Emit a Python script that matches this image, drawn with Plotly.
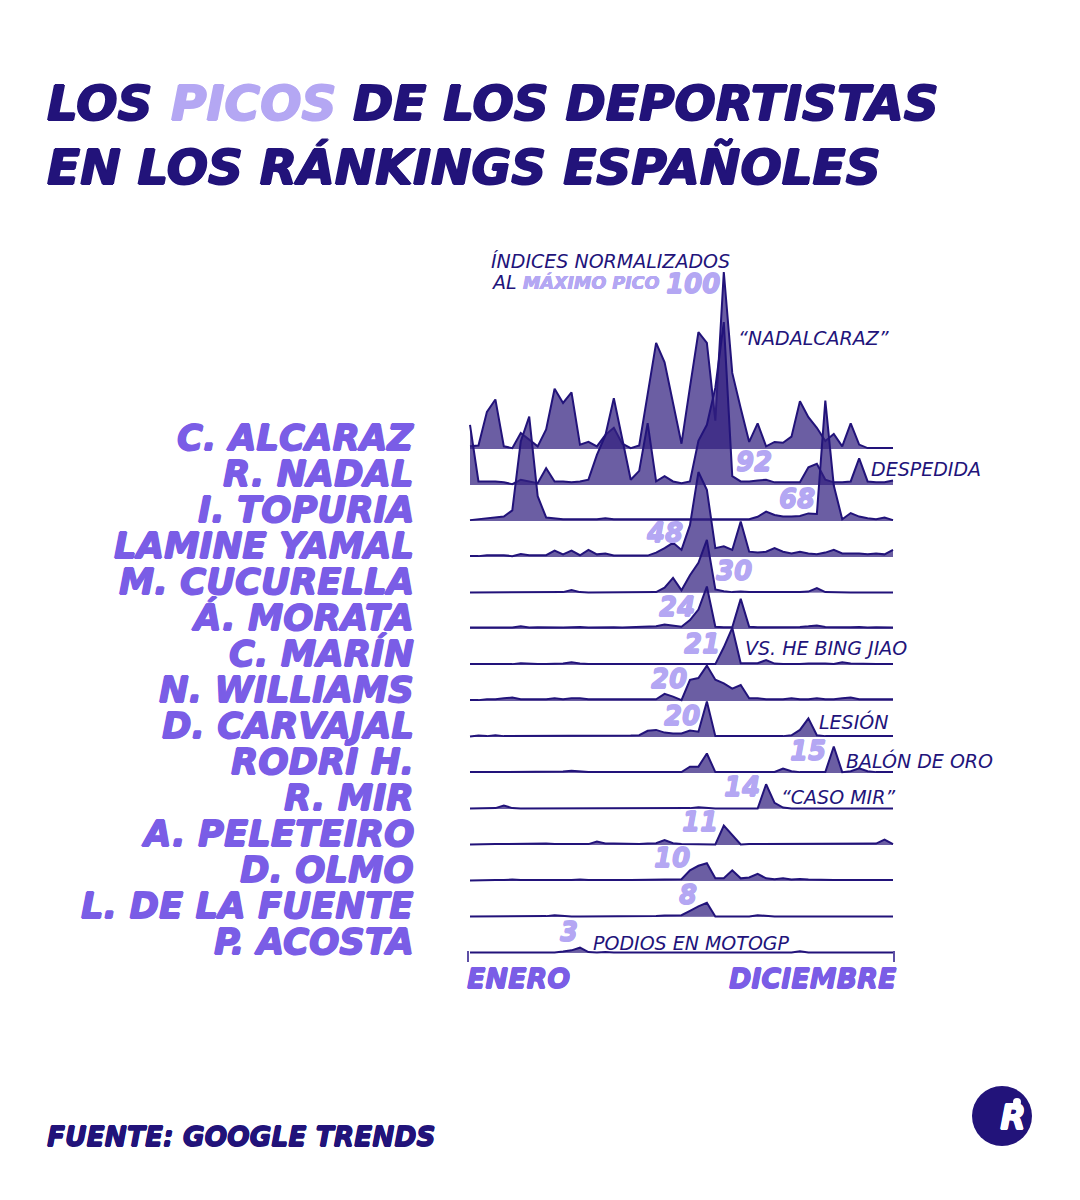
import plotly.graph_objects as go

# Google Trends semanal (51 semanas), índice normalizado al pico máximo (Alcaraz = 100)
weeks = list(range(51))

athletes = ['C. ALCARAZ', 'R. NADAL', 'I. TOPURIA', 'LAMINE YAMAL', 'M. CUCURELLA',
            'Á. MORATA', 'C. MARÍN', 'N. WILLIAMS', 'D. CARVAJAL', 'RODRI H.',
            'R. MIR', 'A. PELETEIRO', 'D. OLMO', 'L. DE LA FUENTE', 'P. ACOSTA']

alcaraz = [1.5, 2, 21, 28, 1.5, 0.5, 9, 5, 1.5, 11,
           34, 26, 32, 2.5, 4, 1.5, 8, 12, 3, 0.5,
           2, 31, 60, 49, 26, 3, 35, 66, 60, 16,
           100, 43, 23, 4, 14.5, 1.5, 4, 3.5, 7, 27,
           18, 12, 4.5, 8.5, 1.5, 14.5, 2.5, 0.5, 0.5, 0.5,
           0.5]
nadal = [34, 2, 2, 2, 1.5, 0.5, 3, 2, 1, 9.5,
         2, 2, 1.5, 2, 3, 17, 28, 49, 25, 3,
         8, 35, 2, 5, 2, 1, 2, 25, 34, 55,
         92, 5, 2, 2, 2.5, 3, 1.5, 1.5, 1.5, 1.5,
         10, 12, 3, 1.5, 1.5, 2, 15, 2, 1.5, 1.5,
         2.5]
topuria = [0.5, 1, 1.5, 2, 2.5, 6, 45, 59, 14, 2,
           1.5, 1, 1, 1, 1, 1, 1.5, 1, 1, 1,
           1, 1, 1, 1, 1, 1, 1, 1, 1, 1,
           1, 1, 1, 1, 2.4, 5.3, 3.4, 2.5, 2.5, 2.8,
           4.3, 4, 68, 20, 1, 4.5, 2.5, 1.5, 1, 2,
           0.5]
lamine = [0.5, 0.5, 1, 1, 1, 0.5, 1.7, 1, 0.8, 1,
          3.6, 1.5, 3.6, 1, 4, 1.5, 2, 0.8, 0.8, 0.8,
          0.8, 0.8, 2.5, 5, 8, 4, 18, 48, 38, 5,
          6, 4, 20, 3, 2.5, 3, 5, 3, 2, 3,
          2, 1.5, 2.5, 4, 2, 2, 2, 1.5, 2, 1.5,
          4]
cucurella = [0.3, 0.3, 0.3, 0.3, 0.3, 0.3, 0.3, 0.3, 0.3, 0.3,
             0.3, 0.5, 1.7, 0.5, 0.3, 0.3, 0.3, 0.3, 0.3, 0.3,
             0.3, 0.5, 0.5, 3, 8.5, 1.5, 10, 17, 30, 2,
             1, 0.5, 0.8, 0.5, 0.5, 0.5, 0.3, 0.3, 0.3, 0.5,
             0.8, 2.8, 0.5, 0.3, 0.3, 0.3, 0.3, 0.3, 0.3, 0.3,
             0.3]
morata = [0.8, 0.8, 0.8, 0.8, 1, 0.8, 1.5, 0.8, 1, 0.8,
          1, 0.8, 1, 1.2, 0.8, 1, 0.8, 1, 0.8, 1,
          1, 1.2, 1.5, 2.5, 1.8, 1.3, 5, 11, 24, 1.3,
          1, 1, 17, 1.3, 1, 1, 0.8, 1, 1, 1.2,
          1.5, 2, 1.2, 1, 0.8, 1, 1.2, 0.8, 1, 0.8,
          0.8]
marin = [0.5, 0.5, 0.5, 0.5, 0.6, 0.5, 1, 0.6, 0.5, 0.5,
         0.6, 0.8, 1.5, 0.8, 0.6, 0.5, 0.5, 0.5, 0.6, 0.5,
         0.5, 0.6, 0.5, 0.5, 0.6, 0.5, 0.5, 0.5, 0.5, 0.5,
         10, 21, 1, 0.8, 1, 2.8, 0.8, 0.6, 0.5, 0.6,
         0.8, 1, 0.8, 0.6, 1.5, 0.8, 0.6, 0.5, 0.6, 0.5,
         0.5]
williams = [0.5, 0.5, 1, 1, 1.5, 2, 1, 0.8, 1, 1,
            1.5, 1, 1.5, 1.5, 1, 1, 0.8, 1, 1, 1,
            1, 1, 1, 4, 2.5, 0.5, 12, 13, 20, 12,
            10, 7, 9, 1.5, 1.5, 1, 1, 1, 1.5, 1,
            1, 1.5, 1, 1, 1.5, 2, 1, 1, 1, 1,
            1]
carvajal = [0.3, 0.8, 0.5, 1, 0.5, 0.5, 0.6, 0.5, 0.6, 0.5,
            0.5, 0.5, 0.8, 0.6, 0.5, 0.6, 0.5, 0.6, 0.5, 0.8,
            1, 3.5, 4, 2.5, 2, 2, 3.6, 3, 20, 0.5,
            0.5, 0.5, 0.5, 0.5, 0.5, 0.5, 0.5, 0.5, 1, 4,
            10.5, 1, 0.5, 0.5, 0.5, 0.5, 0.5, 0.5, 0.5, 0.5,
            0.5]
rodri = [0.5, 0.5, 0.5, 0.5, 0.5, 0.5, 0.6, 0.5, 0.5, 0.6,
         0.5, 0.8, 1.3, 0.8, 0.6, 0.5, 0.5, 0.5, 0.5, 0.5,
         0.5, 0.5, 0.6, 0.5, 0.5, 0.5, 3.6, 3.6, 11, 0.5,
         0.5, 0.5, 0.5, 0.5, 0.5, 0.5, 0.6, 2.5, 1, 0.5,
         0.5, 0.5, 0.5, 15, 0.5, 1, 2.6, 1, 0.5, 0.5,
         0.5]
mir = [0.3, 0.3, 0.3, 0.5, 2, 0.5, 0.3, 0.3, 0.3, 0.3,
       0.3, 0.3, 0.3, 0.3, 0.3, 0.3, 0.3, 0.3, 0.3, 0.3,
       0.3, 0.3, 0.3, 0.3, 0.3, 0.3, 0.5, 1, 0.5, 0.3,
       0.3, 0.3, 0.3, 0.3, 0.3, 14, 3.5, 0.8, 0.3, 0.3,
       0.3, 0.3, 0.3, 0.3, 0.3, 0.3, 0.3, 0.3, 0.3, 0.3,
       0.3]
peleteiro = [0.3, 0.5, 0.5, 0.5, 0.5, 0.6, 0.5, 0.8, 0.5, 0.8,
             0.5, 0.5, 0.6, 0.5, 0.5, 2, 0.8, 0.8, 0.6, 0.6,
             0.6, 0.8, 1, 2.8, 1, 0.6, 0.6, 0.5, 0.5, 0.3,
             11, 5.5, 0.3, 0.5, 0.5, 0.6, 0.5, 0.5, 0.6, 0.5,
             0.5, 0.6, 0.5, 0.5, 0.5, 0.5, 0.5, 0.5, 0.8, 3,
             0.5]
olmo = [0.3, 0.5, 0.5, 0.6, 0.5, 0.8, 0.5, 0.6, 0.5, 0.8,
        0.5, 0.6, 0.5, 0.8, 0.5, 0.6, 0.5, 0.6, 0.5, 0.5,
        0.6, 0.5, 0.6, 0.5, 0.8, 1, 6, 8.6, 10, 1.5,
        1.5, 6, 1.5, 2, 4, 1.5, 1, 1.5, 0.8, 1.2,
        0.8, 0.6, 0.5, 0.6, 0.5, 0.5, 0.6, 0.5, 0.8, 0.6,
        0.6]
de_la_fuente = [0.3, 0.3, 0.3, 0.3, 0.3, 0.3, 0.3, 0.3, 0.3, 0.5,
                1, 0.5, 0.3, 0.3, 0.3, 0.3, 0.3, 0.3, 0.3, 0.3,
                0.3, 0.5, 0.5, 0.8, 0.8, 1, 3.5, 6, 8, 0.3,
                0.3, 0.3, 0.3, 0.3, 1, 0.5, 0.3, 0.3, 0.3, 0.3,
                0.3, 0.3, 0.3, 0.3, 0.3, 0.3, 0.3, 0.3, 0.3, 0.3,
                0.3]
acosta = [0.3, 0.3, 0.3, 0.3, 0.3, 0.3, 0.3, 0.3, 0.3, 0.3,
          0.3, 0.8, 1.5, 3, 0.5, 0.3, 0.6, 0.3, 0.3, 0.3,
          0.3, 0.3, 0.3, 0.3, 0.3, 0.3, 0.3, 0.3, 0.3, 0.3,
          0.3, 0.3, 0.3, 0.3, 0.3, 0.3, 0.3, 0.3, 0.3, 1,
          0.3, 0.3, 0.3, 0.3, 0.3, 0.3, 0.3, 0.3, 0.3, 0.3,
          0.3]

series = [alcaraz, nadal, topuria, lamine, cucurella, morata, marin, williams,
          carvajal, rodri, mir, peleteiro, olmo, de_la_fuente, acosta]

events = ['“NADALCARAZ”', 'DESPEDIDA', 'VS. HE BING JIAO', 'LESIÓN',
          'BALÓN DE ORO', '“CASO MIR”', 'PODIOS EN MOTOGP']

# colores y fuentes
NAVY = '#22137a'
PURPLE = '#7a5de6'
LAVENDER = '#b4a7f3'
FILL = 'rgba(50,32,128,0.72)'
FONT = 'DejaVu Sans, sans-serif'

# geometría en píxeles de la página; el body del html deja 8px de margen
W, H = 1080, 1200
OFF = 8
X0, X1 = 470, 893
PX_WEEK = (X1 - X0) / (len(weeks) - 1)
ROW0, ROW_STEP = 449, 36
PX_UNIT = 1.77


def px(x):
    return (x - OFF) / (W - OFF)


def py(y):
    return 1 - (y - OFF) / (H - OFF)


fig = go.Figure()
for k, vals in enumerate(series):
    base = ROW0 + k * ROW_STEP
    ys = [-(base - v * PX_UNIT) for v in vals]
    fig.add_trace(go.Scatter(x=weeks + [weeks[-1], weeks[0]], y=ys + [-base, -base],
                             fill='toself', fillcolor=FILL, mode='lines',
                             line=dict(width=0), hoverinfo='skip', showlegend=False))
    fig.add_trace(go.Scatter(x=weeks, y=ys, mode='lines', name=athletes[k],
                             line=dict(color=NAVY, width=2), showlegend=False))

annotations = []


def txt(text, x, y, size, color, anchor='left', heavy=True, bold=0.8):
    # el contorno con text-shadow engorda la DejaVu Bold hacia un peso "black"
    d = bold
    shadow = (f'{d}px 0 0 {color}, -{d}px 0 0 {color}, 0 {d}px 0 {color}, 0 -{d}px 0 {color}'
              if heavy else 'none')
    annotations.append(dict(
        text=text, x=px(x), y=py(y), xref='paper', yref='paper', showarrow=False,
        xanchor=anchor, yanchor='middle',
        font=dict(family=FONT, size=size, color=color, shadow=shadow,
                  weight=900 if heavy else 300, style='italic')))


# título (tres piezas para colorear "PICOS")
txt('LOS', 45, 103, 48.5, NAVY, bold=1)
txt('PICOS', 169, 103, 48.5, LAVENDER, bold=1)
txt('DE LOS DEPORTISTAS', 351, 103, 48.5, NAVY, bold=1)
txt('EN LOS RÁNKINGS ESPAÑOLES', 45, 167, 48.5, NAVY, bold=1)

# nombres
for k, name in enumerate(athletes):
    txt(name, 416, 437 + k * ROW_STEP, 35.5, PURPLE, anchor='right')

# nota de escala
txt('ÍNDICES NORMALIZADOS', 489, 261, 19, NAVY, heavy=False)
txt('AL', 489, 282, 19, NAVY, heavy=False)
txt('MÁXIMO PICO', 521, 282, 17.5, LAVENDER, bold=0.4)

# cifras de los picos
peak_pos = [(722, 284), (774, 462), (817, 499), (685, 533), (754, 571),
            (697, 607), (722, 644), (689, 679), (702, 716), (828, 751),
            (762, 787), (720, 822), (692, 858), (699, 895), (580, 932)]
for vals, (x, y) in zip(series, peak_pos):
    txt(f'{max(vals):g}', x, y, 26, LAVENDER, anchor='right', bold=0.6)

# eventos
event_pos = [(736, 338), (869, 469), (743, 648), (817, 721), (844, 760), (779, 797), (591, 943)]
for ev, (x, y) in zip(events, event_pos):
    txt(ev, x, y, 19, NAVY, heavy=False)

# eje temporal
txt('ENERO', 465, 978, 27, PURPLE, bold=0.6)
txt('DICIEMBRE', 899, 978, 27, PURPLE, anchor='right', bold=0.6)
txt('FUENTE: GOOGLE TRENDS', 45, 1136, 26.5, NAVY, bold=0.6)
txt('R', 998, 1117, 34, 'white', bold=0.6)

shapes = [
    dict(type='line', xref='paper', yref='paper', x0=px(X0 - 2), x1=px(X0 - 2),
         y0=py(951), y1=py(962), line=dict(color='#5d4fa6', width=2)),
    dict(type='line', xref='paper', yref='paper', x0=px(X1 + 1), x1=px(X1 + 1),
         y0=py(951), y1=py(962), line=dict(color='#5d4fa6', width=2)),
    dict(type='circle', xref='paper', yref='paper', x0=px(972), x1=px(1032),
         y0=py(1146), y1=py(1086), fillcolor=NAVY, line=dict(width=0), layer='below'),
    dict(type='circle', xref='paper', yref='paper', x0=px(1013), x1=px(1021),
         y0=py(1106), y1=py(1098), fillcolor='white', line=dict(width=0)),
]

fig.update_layout(
    width=W - OFF, height=H - OFF,
    margin=dict(l=0, r=0, t=0, b=0),
    paper_bgcolor='white', plot_bgcolor='white',
    xaxis=dict(range=[(OFF - X0) / PX_WEEK, (W - X0) / PX_WEEK], visible=False, fixedrange=True),
    yaxis=dict(range=[-H, -OFF], visible=False, fixedrange=True),
    annotations=annotations, shapes=shapes,
    showlegend=False,
)

fig.write_html('out.html')
